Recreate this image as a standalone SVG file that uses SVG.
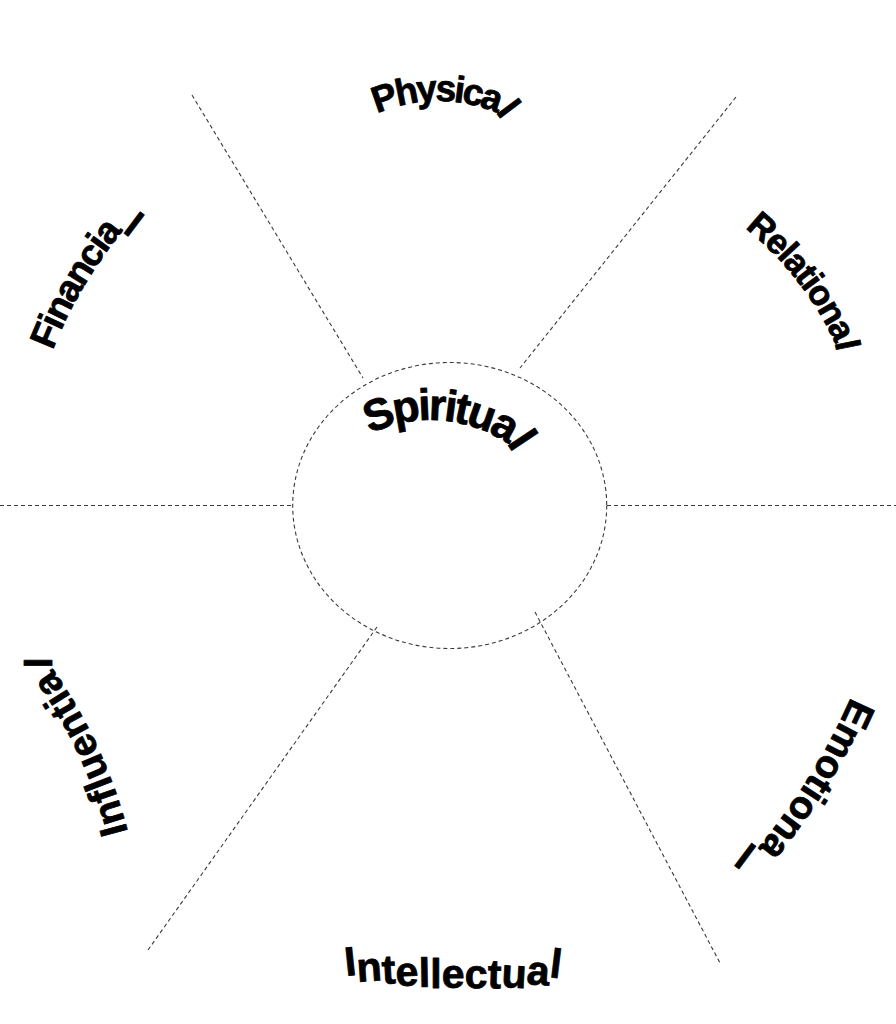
<svg xmlns="http://www.w3.org/2000/svg" width="896" height="1024" viewBox="0 0 896 1024">
<style>
.dash{fill:none;stroke:#3a3a3a;stroke-width:1.1;stroke-dasharray:4 3}
.lbl{font-family:"Liberation Sans",Arial,sans-serif;font-weight:bold;fill:#000;stroke:#000;stroke-width:0.8;stroke-linejoin:round}
</style>
<defs>
<path id="pSpiritual" d="M370,433.8 A138,138 0 0 1 506.4,443 L528.4,476.2"/>
<path id="pPhysical" d="M376.9,113.5 A155,155 0 0 1 495.6,112.1 L519.6,144.1"/>
<path id="pRelational" d="M745,228 A320,320 0 0 1 834.7,342.5 L842.7,381.7"/>
<path id="pFinancial" d="M52.6,350.6 A450,450 0 0 1 122,231.8 L146,249.8"/>
<path id="pEmotional" d="M851,697 A650,650 0 0 1 758,848 L734,830"/>
<path id="pInfluential" d="M128,832 A500,500 0 0 0 52,668 L52,628"/>
</defs>
<rect width="896" height="1024" fill="#fff"/>
<g id="connectors">
<line class="dash" x1="192" y1="95" x2="363" y2="378"/>
<line class="dash" x1="736" y1="97" x2="520" y2="368"/>
<line class="dash" x1="0" y1="505.5" x2="292" y2="505.5"/>
<line class="dash" x1="607" y1="505.5" x2="896" y2="505.5"/>
<line class="dash" x1="377" y1="627" x2="148" y2="950"/>
<line class="dash" x1="535" y1="612" x2="720" y2="963"/>
</g>
<g id="spiritual">
<ellipse class="dash" cx="449.7" cy="505.5" rx="157" ry="143"/>
<text class="lbl" font-size="44" letter-spacing="-2.6"><textPath href="#pSpiritual">Spiritual</textPath></text>
</g>
<g id="physical">
<text class="lbl" font-size="37" letter-spacing="-2.6"><textPath href="#pPhysical">Physical</textPath></text>
</g>
<g id="relational">
<text class="lbl" font-size="35" letter-spacing="-1.2"><textPath href="#pRelational">Relational</textPath></text>
</g>
<g id="emotional">
<text class="lbl" font-size="39" letter-spacing="0"><textPath href="#pEmotional">Emotional</textPath></text>
</g>
<g id="intellectual">
<text class="lbl" font-size="41" x="346 357.4 382.4 396.1 418.9 430.3 441.7 464.5 487.3 501 526 548.8" y="976 982 984 986 987 988 988 988 988 987 984 977" rotate="-6 -4 -3 -2 -1 0 0 1 2 3 4 7">Intellectual</text>
</g>
<g id="influential">
<text class="lbl" font-size="39" letter-spacing="0.8"><textPath href="#pInfluential">Influential</textPath></text>
</g>
<g id="financial">
<text class="lbl" font-size="37" letter-spacing="-1.5"><textPath href="#pFinancial">Financial</textPath></text>
</g>
</svg>
